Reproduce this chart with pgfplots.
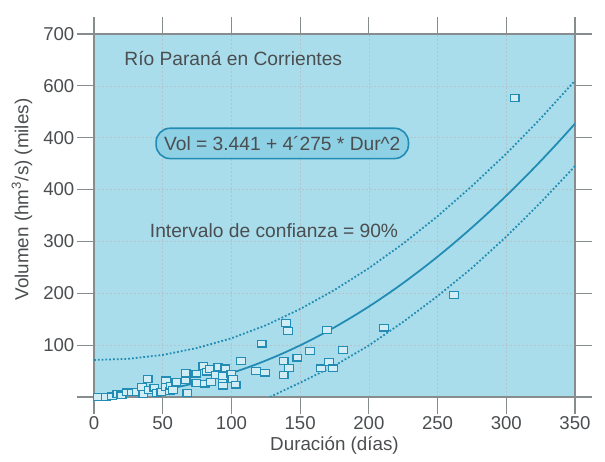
\documentclass[border=0pt]{standalone}
\usepackage{fontspec}
\setmainfont{Liberation Sans}
\usepackage{pgfplots}
\pgfplotsset{compat=1.18}
\usepackage{pgfplotstable}
\definecolor{bgblue}{RGB}{170,221,235}
\definecolor{boxblue}{RGB}{142,208,228}
\definecolor{curve}{RGB}{34,140,180}
\definecolor{frame}{RGB}{135,140,142}
\definecolor{gridc}{RGB}{180,195,200}
\definecolor{txt}{RGB}{75,78,80}

\pgfplotstableread{
x y
2.8 0.5
8.4 0.5
13 1
17 6
20 3
24 9
27.5 9
31 10
35 19
36 6
39 35
40 14
44 18
46 8
49 10
52.5 32
52.5 19
55 12
56 22
57.6 13
60 29
66.6 46
66.6 32
68 8
74.5 45
74.5 27
79.6 60
81 26
82 49
84.6 54
85 29
88.6 42
90.5 58
93.6 35
94 22
95.6 55
94 40
100 44
101 35
103 24
107 69
118 50
122 103
124.5 47
138 42
138 69
139.5 143
141 127
142 56
148 76
157 89
165 55
169.5 129
171 68
174 55
181 91
211 134
262 197
306 576
}\pointstab

\pgfplotstableread{
x y
0 3.4
10 3.9
20 5.2
30 7.3
40 10.3
50 14.1
60 18.8
70 24.4
80 30.8
90 38.1
100 46.2
110 55.2
120 65.0
130 75.7
140 87.2
150 99.6
160 112.9
170 127.0
180 142.0
190 157.8
200 174.4
210 192.0
220 210.3
230 229.6
240 249.7
250 270.6
260 292.4
270 315.1
280 338.6
290 363.0
300 388.2
310 414.3
320 441.2
330 469.0
340 497.6
350 527.1
}\fittab

\pgfplotstableread{
x y
0 71.4
25 73.6
50 81.1
75 94.5
100 113.2
125 138.2
150 169.6
175 206.4
200 248.4
225 295.9
250 348.6
275 406.7
300 469.2
325 537.0
350 610.1
}\uppertab

\pgfplotstableread{
x y
128 0
150 27.6
175 60.4
200 99.4
225 144.9
250 194.6
275 248.7
300 309.2
325 375.0
350 445.1
}\lowertab

\begin{document}
\begin{tikzpicture}
\begin{axis}[
  scale only axis,
  width=240.5pt, height=181.5pt,
  xmin=0, xmax=350, ymin=0, ymax=700,
  xtick={0,50,...,350},
  ytick={0,100,...,700},
  yticklabels={,100,200,300,400,400,600,700},
  tick align=outside,
  major tick length=8.3pt,
  tick style={frame, line width=0.6pt},
  axis line style={frame, line width=0.7pt},
  axis background/.style={fill=bgblue},
  grid=major,
  grid style={gridc, line width=0.35pt, dash pattern=on 1.2pt off 0.8pt},
  /pgf/number format/assume math mode=true,
  ticklabel style={font=\fontsize{9.3}{11}\selectfont, text=txt},
  xticklabel style={yshift=2pt},
  yticklabel style={xshift=2pt},
  label style={font=\fontsize{9.4}{11}\selectfont, text=txt},
  xlabel={Duración (días)},
  ylabel={Volumen (hm\textsuperscript{3}/s) (miles)},
  xlabel style={at={([yshift=-24.5pt]axis description cs:0.5,0)}, anchor=center},
  ylabel style={at={([xshift=-36pt,yshift=8pt]axis description cs:0,0.5)}, anchor=center},
  clip=true,
]
\addplot[curve, line width=0.9pt, densely dotted] table[x=x,y=y] {\uppertab};
\addplot[curve, line width=0.9pt, densely dotted] table[x=x,y=y] {\lowertab};
\addplot[curve, line width=0.9pt, smooth] table[x=x,y=y] {\fittab};
\addplot[only marks, mark=square*, mark size=1.7pt,
  mark options={xscale=1.3, draw=curve, fill=bgblue!55!white, line width=0.6pt}]
  table[x=x,y=y] {\pointstab};
\node[anchor=west, font=\fontsize{9.6}{11}\selectfont, text=txt] at (axis cs:17,653) {Río Paraná en Corrientes};
\node[draw=curve, fill=boxblue, rounded corners=7pt, line width=0.8pt, inner xsep=4pt, inner ysep=4pt,
  font=\fontsize{9.6}{11}\selectfont, text=txt] at (axis cs:137,489) {Vol = 3.441 + 4´275 * Dur\textasciicircum 2};
\node[font=\fontsize{9.6}{11}\selectfont, text=txt] at (axis cs:131,320) {Intervalo de confianza = 90\%};
\end{axis}
\path (current axis.south west) ++(-47pt,-32pt) coordinate (bl);
\path (current axis.north east) ++(15pt,17pt) coordinate (tr);
\path (bl) rectangle (tr);
\end{tikzpicture}
\end{document}
